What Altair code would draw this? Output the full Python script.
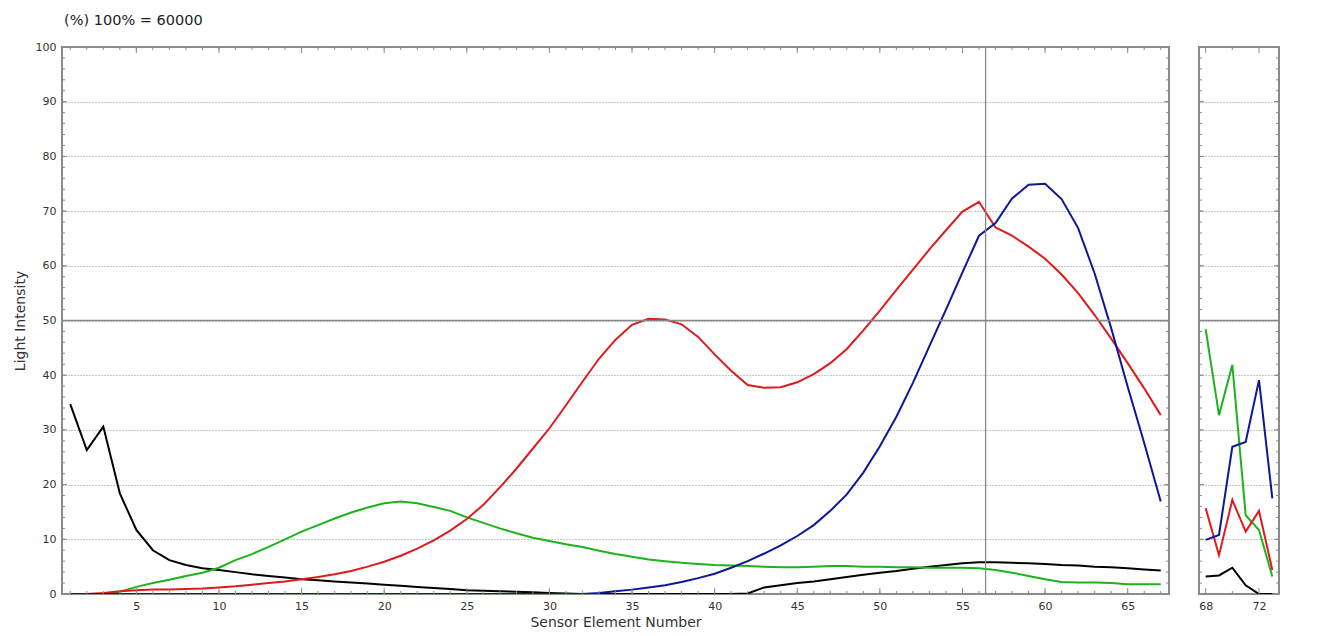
import altair as alt
import pandas as pd

# ---------------- data ----------------
x_main = list(range(1, 68))

black = [34.7, 26.3, 30.6, 18.4, 11.7, 8.0, 6.2, 5.3, 4.7, 4.4,
         4.0, 3.6, 3.3, 3.0, 2.7, 2.5, 2.3, 2.1, 1.9, 1.7,
         1.5, 1.3, 1.1, 0.9, 0.7, 0.6, 0.5, 0.4, 0.3, 0.2,
         0.1, 0.0, 0.0, 0.0, 0.0, 0.0, 0.0, 0.0, 0.0, 0.0,
         0.0, 0.1, 1.2, 1.6, 2.0, 2.3, 2.7, 3.1, 3.5, 3.9,
         4.2, 4.6, 5.0, 5.3, 5.6, 5.8, 5.8, 5.7, 5.6, 5.5,
         5.3, 5.2, 5.0, 4.9, 4.7, 4.5, 4.3]

green = [0.0, 0.0, 0.0, 0.4, 1.3, 2.0, 2.6, 3.3, 3.9, 4.8,
         6.2, 7.3, 8.6, 10.0, 11.4, 12.6, 13.8, 14.9, 15.8, 16.6,
         16.9, 16.6, 15.9, 15.2, 14.0, 13.0, 12.0, 11.1, 10.3, 9.7,
         9.1, 8.6, 7.9, 7.3, 6.8, 6.3, 6.0, 5.7, 5.5, 5.3,
         5.2, 5.1, 5.0, 4.9, 4.9, 5.0, 5.1, 5.1, 5.0, 5.0,
         4.9, 4.9, 4.8, 4.8, 4.8, 4.7, 4.4, 3.9, 3.3, 2.7,
         2.2, 2.1, 2.1, 2.0, 1.8, 1.8, 1.8]

red = [0.0, 0.0, 0.2, 0.5, 0.7, 0.8, 0.8, 0.9, 1.0, 1.2,
       1.4, 1.7, 2.0, 2.3, 2.7, 3.1, 3.6, 4.2, 5.0, 5.9,
       7.0, 8.3, 9.8, 11.6, 13.7, 16.3, 19.5, 22.9, 26.6, 30.3,
       34.5, 38.8, 43.0, 46.5, 49.2, 50.3, 50.2, 49.3, 47.0, 43.8,
       40.8, 38.2, 37.7, 37.8, 38.7, 40.2, 42.2, 44.8, 48.2, 51.8,
       55.6, 59.3, 63.0, 66.5, 69.9, 71.7, 67.0, 65.5, 63.5, 61.3,
       58.4, 55.0, 51.0, 46.7, 42.2, 37.6, 32.7]

blue = [0.0, 0.0, 0.0, 0.0, 0.0, 0.0, 0.0, 0.0, 0.0, 0.0,
        0.0, 0.0, 0.0, 0.0, 0.0, 0.0, 0.0, 0.0, 0.0, 0.0,
        0.0, 0.0, 0.0, 0.0, 0.0, 0.0, 0.0, 0.0, 0.0, 0.0,
        0.0, 0.0, 0.2, 0.5, 0.8, 1.2, 1.6, 2.2, 2.9, 3.7,
        4.8, 6.0, 7.4, 8.9, 10.6, 12.6, 15.2, 18.2, 22.2, 27.0,
        32.4, 38.6, 45.3, 52.0, 58.8, 65.5, 67.8, 72.3, 74.8, 75.0,
        72.2, 66.9, 58.6, 48.6, 37.9, 27.6, 16.9]

x_side = [68, 69, 70, 71, 72, 73]
black_side = [3.2, 3.4, 4.8, 1.6, 0.0, 0.0]
green_side = [48.4, 32.7, 41.9, 14.4, 11.7, 3.2]
red_side = [15.7, 7.1, 17.2, 11.4, 15.2, 4.4]
blue_side = [9.9, 10.8, 26.9, 27.8, 39.1, 17.5]

series_names = ["Black", "Green", "Red", "Blue"]
series_colors = ["#000000", "#1fb21f", "#e01a1a", "#0c1896"]

y_label_values = list(range(0, 101, 10))
y_minor_ticks = list(range(0, 101, 2))
x_main_labels = list(range(5, 66, 5))
x_main_minor = list(range(1, 68))
x_side_labels = [68, 72]
x_side_minor = [70]
cursor_x = [56.4]
half_line = [50]

# ---------------- layout ----------------
W_MAIN, W_SIDE, H = 1107, 80, 547
FRAME = "#8a8a8a"
FONT = "DejaVu Sans"
TXT = "#333333"


def long_df(xs, cols):
    rows = []
    for name, vals in zip(series_names, cols):
        for xv, yv in zip(xs, vals):
            rows.append({"x": xv, "y": yv, "series": name})
    return pd.DataFrame(rows)


df_main = long_df(x_main, [black, green, red, blue])
df_side = long_df(x_side, [black_side, green_side, red_side, blue_side])

ys = alt.Scale(domain=[0, 100], nice=False, zero=False)
color = alt.Color("series:N", scale=alt.Scale(domain=series_names, range=series_colors), legend=None)

common = dict(labelFont=FONT, titleFont=FONT, labelColor=TXT, titleColor=TXT,
              titleFontWeight="normal", ticks=False, tickSize=0, domain=False)

Y_AXIS_MAIN = alt.Axis(values=y_label_values, title="Light Intensity", grid=True,
                       gridDash=[1, 2], gridColor="#8f8f8f", gridWidth=1, gridOpacity=1,
                       labelPadding=6, titlePadding=8, labelFontSize=11, titleFontSize=14,
                       **common)
Y_AXIS_SIDE = alt.Axis(values=y_label_values, title=None, labels=False, grid=True,
                       gridDash=[1, 2], gridColor="#8f8f8f", gridWidth=1, gridOpacity=1,
                       minExtent=0, maxExtent=0, **common)
X_AXIS_MAIN = alt.Axis(values=x_main_labels, title="Sensor Element Number", grid=False,
                       labelPadding=6, titlePadding=4, labelFontSize=11, titleFontSize=14,
                       **common)
X_AXIS_SIDE = alt.Axis(values=x_side_labels, title=None, grid=False,
                       labelPadding=6, labelFontSize=11, **common)


def tick_layers(xs_scale, x_axis, y_axis, width, x_major, x_minor):
    ydf_minor = pd.DataFrame({"y": y_minor_ticks})
    ydf_major = pd.DataFrame({"y": y_label_values})
    xdf_minor = pd.DataFrame({"x": x_minor})
    xdf_major = pd.DataFrame({"x": x_major})
    layers = []
    for d, ln in ((ydf_minor, 3), (ydf_major, 5)):
        layers.append(alt.Chart(d).mark_rule(color=FRAME, strokeWidth=1).encode(
            y=alt.Y("y:Q", scale=ys, axis=y_axis), x=alt.value(0), x2=alt.value(ln)))
        layers.append(alt.Chart(d).mark_rule(color=FRAME, strokeWidth=1).encode(
            y=alt.Y("y:Q", scale=ys, axis=y_axis), x=alt.value(width - ln), x2=alt.value(width)))
    for d, ln in ((xdf_minor, 3), (xdf_major, 6)):
        layers.append(alt.Chart(d).mark_rule(color=FRAME, strokeWidth=1).encode(
            x=alt.X("x:Q", scale=xs_scale, axis=x_axis), y=alt.value(H - ln), y2=alt.value(H)))
        layers.append(alt.Chart(d).mark_rule(color=FRAME, strokeWidth=1).encode(
            x=alt.X("x:Q", scale=xs_scale, axis=x_axis), y=alt.value(0), y2=alt.value(ln)))
    return layers


# ---------------- main panel ----------------
xs_main = alt.Scale(domain=[0.5, 67.5], nice=False, zero=False)

main_lines = alt.Chart(df_main).mark_line(strokeWidth=2, clip=True).encode(
    x=alt.X("x:Q", scale=xs_main, axis=X_AXIS_MAIN),
    y=alt.Y("y:Q", scale=ys, axis=Y_AXIS_MAIN),
    color=color,
)

half_rule = alt.Chart(pd.DataFrame({"y": half_line})).mark_rule(color="#888888", strokeWidth=1.3).encode(
    y=alt.Y("y:Q", scale=ys, axis=Y_AXIS_MAIN))
cursor_rule = alt.Chart(pd.DataFrame({"x": cursor_x})).mark_rule(color="#8a8a8a", strokeWidth=1.3).encode(
    x=alt.X("x:Q", scale=xs_main, axis=X_AXIS_MAIN))

main = alt.layer(
    main_lines, half_rule, cursor_rule,
    *tick_layers(xs_main, X_AXIS_MAIN, Y_AXIS_MAIN, W_MAIN, x_main_labels, x_main_minor),
).properties(
    width=W_MAIN, height=H,
    view=alt.ViewBackground(stroke=FRAME, strokeWidth=2),
    title=alt.TitleParams("(%) 100% = 60000", anchor="start", frame="group", fontSize=14.5,
                          font=FONT, fontWeight="normal", color="#222222", offset=13, dx=2),
)

# ---------------- side panel ----------------
xs_side = alt.Scale(domain=[67.5, 73.5], nice=False, zero=False)

side_lines = alt.Chart(df_side).mark_line(strokeWidth=2, clip=True).encode(
    x=alt.X("x:Q", scale=xs_side, axis=X_AXIS_SIDE),
    y=alt.Y("y:Q", scale=ys, axis=Y_AXIS_SIDE),
    color=color,
)
side_half = alt.Chart(pd.DataFrame({"y": half_line})).mark_rule(color="#888888", strokeWidth=1.3).encode(
    y=alt.Y("y:Q", scale=ys, axis=Y_AXIS_SIDE))

side = alt.layer(
    side_lines, side_half,
    *tick_layers(xs_side, X_AXIS_SIDE, Y_AXIS_SIDE, W_SIDE, x_side_labels, x_side_minor),
).properties(width=W_SIDE, height=H, view=alt.ViewBackground(stroke=FRAME, strokeWidth=2))

chart = alt.hconcat(main, side, spacing=26).properties(
    padding={"left": 12, "top": 11, "right": 5, "bottom": 5},
    background="white",
)

chart.save("out.html", embed_options={"renderer": "svg", "actions": False})
